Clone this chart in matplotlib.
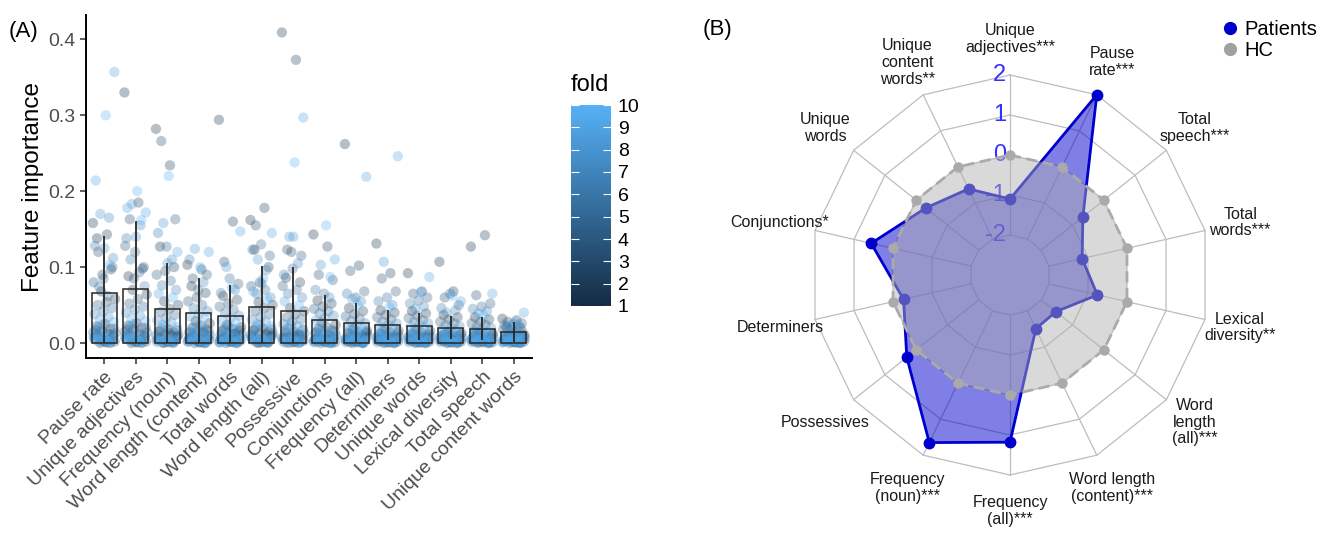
import numpy as np
import matplotlib
matplotlib.use("Agg")
import matplotlib.pyplot as plt
from matplotlib.colors import LinearSegmentedColormap
from matplotlib.cm import ScalarMappable
from matplotlib.lines import Line2D

plt.rcParams['font.family'] = ['Liberation Sans', 'DejaVu Sans']

# Panel A data ################################################################
features_a = ['Pause rate', 'Unique adjectives', 'Frequency (noun)',
              'Word length (content)', 'Total words', 'Word length (all)',
              'Possessive', 'Conjunctions', 'Frequency (all)', 'Determiners',
              'Unique words', 'Lexical diversity', 'Total speech',
              'Unique content words']

# mean importance and sd (bars + error lines)
imp_mean = [0.066, 0.0715, 0.045, 0.039, 0.036, 0.047, 0.0425,
            0.030, 0.027, 0.024, 0.022, 0.020, 0.019, 0.015]
imp_sd = [0.075, 0.0895, 0.060, 0.046, 0.040, 0.055, 0.0575,
          0.033, 0.026, 0.020, 0.018, 0.015, 0.015, 0.013]

# single runs (fold = position % 10 + 1)
pause_rate = [0.158, 0.143, 0.120, 0.100, 0.085, 0.128, 0.165, 0.170, 0.357, 0.300,
              0.138, 0.097, 0.090, 0.080, 0.062, 0.074, 0.112, 0.125, 0.214, 0.103,
              0.068, 0.058, 0.054, 0.050, 0.046, 0.042, 0.038, 0.034, 0.031, 0.028,
              0.025, 0.022, 0.019, 0.016, 0.014, 0.012, 0.010, 0.008, 0.006, 0.005,
              0.004, 0.003, 0.002, 0.001, 0.011, 0.007, 0.015, 0.009, 0.003, 0.002,
              0.010, 0.002, 0.017, 0.000, 0.006, 0.013, 0.001, 0.021, 0.004, 0.008,
              0.005, 0.012, 0.000, 0.019, 0.003, 0.009, 0.001, 0.024, 0.007, 0.002]
unique_adj = [0.330, 0.185, 0.163, 0.100, 0.120, 0.138, 0.155, 0.183, 0.172, 0.200,
              0.088, 0.098, 0.085, 0.128, 0.093, 0.110, 0.075, 0.140, 0.178, 0.162,
              0.070, 0.064, 0.058, 0.052, 0.048, 0.044, 0.040, 0.036, 0.032, 0.029,
              0.026, 0.023, 0.020, 0.018, 0.015, 0.013, 0.011, 0.009, 0.007, 0.005,
              0.004, 0.003, 0.002, 0.001, 0.012, 0.008, 0.016, 0.006, 0.003, 0.002,
              0.009, 0.001, 0.018, 0.000, 0.005, 0.014, 0.002, 0.022, 0.004, 0.007,
              0.006, 0.011, 0.000, 0.020, 0.003, 0.010, 0.001, 0.025, 0.008, 0.002]
freq_noun = [0.282, 0.234, 0.266, 0.163, 0.127, 0.145, 0.110, 0.158, 0.120, 0.220,
             0.127, 0.100, 0.095, 0.090, 0.082, 0.076, 0.070, 0.105, 0.065, 0.060,
             0.055, 0.050, 0.045, 0.041, 0.037, 0.033, 0.030, 0.027, 0.024, 0.021,
             0.018, 0.016, 0.014, 0.012, 0.010, 0.008, 0.006, 0.005, 0.004, 0.003,
             0.002, 0.001, 0.009, 0.013, 0.007, 0.003, 0.002, 0.001, 0.004, 0.002,
             0.008, 0.001, 0.015, 0.000, 0.005, 0.011, 0.002, 0.019, 0.003, 0.006,
             0.004, 0.010, 0.000, 0.017, 0.002, 0.007, 0.001, 0.022, 0.005, 0.001]
wl_content = [0.103, 0.097, 0.085, 0.090, 0.070, 0.110, 0.080, 0.124, 0.120, 0.100,
              0.075, 0.066, 0.060, 0.055, 0.050, 0.046, 0.042, 0.038, 0.035, 0.032,
              0.029, 0.026, 0.023, 0.020, 0.018, 0.016, 0.014, 0.012, 0.010, 0.008,
              0.006, 0.005, 0.004, 0.003, 0.002, 0.001, 0.011, 0.007, 0.003, 0.002,
              0.015, 0.009, 0.004, 0.001, 0.006, 0.000, 0.012, 0.002, 0.018, 0.005,
              0.008, 0.001, 0.014, 0.000, 0.004, 0.010, 0.002, 0.020, 0.003, 0.007,
              0.006, 0.013, 0.000, 0.016, 0.002, 0.009, 0.001, 0.023, 0.004, 0.001]
total_words = [0.294, 0.160, 0.107, 0.078, 0.085, 0.066, 0.070, 0.100, 0.147, 0.073,
               0.062, 0.057, 0.052, 0.048, 0.044, 0.040, 0.036, 0.033, 0.030, 0.027,
               0.024, 0.021, 0.019, 0.017, 0.015, 0.013, 0.011, 0.009, 0.007, 0.006,
               0.005, 0.004, 0.003, 0.002, 0.001, 0.010, 0.008, 0.004, 0.002, 0.001,
               0.012, 0.006, 0.003, 0.002, 0.005, 0.000, 0.014, 0.001, 0.018, 0.004,
               0.009, 0.002, 0.016, 0.000, 0.006, 0.011, 0.001, 0.020, 0.003, 0.007,
               0.005, 0.012, 0.000, 0.017, 0.002, 0.008, 0.001, 0.022, 0.004, 0.002]
wl_all = [0.162, 0.178, 0.155, 0.115, 0.130, 0.123, 0.096, 0.110, 0.145, 0.085,
          0.123, 0.100, 0.080, 0.075, 0.070, 0.065, 0.060, 0.078, 0.068, 0.058,
          0.054, 0.050, 0.046, 0.042, 0.038, 0.034, 0.031, 0.028, 0.025, 0.022,
          0.019, 0.017, 0.015, 0.013, 0.011, 0.009, 0.007, 0.005, 0.004, 0.003,
          0.002, 0.001, 0.010, 0.006, 0.003, 0.002, 0.001, 0.008, 0.004, 0.002,
          0.010, 0.001, 0.017, 0.000, 0.005, 0.013, 0.002, 0.021, 0.004, 0.008,
          0.006, 0.012, 0.000, 0.018, 0.003, 0.009, 0.001, 0.024, 0.007, 0.002]
possessive = [0.409, 0.373, 0.123, 0.115, 0.098, 0.090, 0.105, 0.140, 0.297, 0.238,
              0.086, 0.080, 0.120, 0.075, 0.070, 0.065, 0.060, 0.140, 0.055, 0.050,
              0.046, 0.042, 0.038, 0.034, 0.031, 0.028, 0.025, 0.022, 0.019, 0.017,
              0.015, 0.013, 0.011, 0.009, 0.007, 0.005, 0.004, 0.003, 0.002, 0.001,
              0.010, 0.006, 0.003, 0.002, 0.001, 0.008, 0.004, 0.002, 0.012, 0.005,
              0.009, 0.001, 0.016, 0.000, 0.006, 0.012, 0.002, 0.020, 0.003, 0.007,
              0.005, 0.011, 0.000, 0.018, 0.002, 0.008, 0.001, 0.023, 0.006, 0.001]
conjunctions = [0.143, 0.127, 0.090, 0.083, 0.065, 0.070, 0.060, 0.103, 0.110, 0.155,
                0.056, 0.052, 0.048, 0.045, 0.042, 0.039, 0.036, 0.033, 0.030, 0.087,
                0.027, 0.024, 0.021, 0.019, 0.017, 0.015, 0.013, 0.011, 0.009, 0.007,
                0.006, 0.005, 0.004, 0.003, 0.002, 0.001, 0.010, 0.006, 0.003, 0.002,
                0.008, 0.004, 0.001, 0.005, 0.002, 0.000, 0.012, 0.001, 0.016, 0.003,
                0.007, 0.001, 0.014, 0.000, 0.004, 0.010, 0.002, 0.018, 0.003, 0.006,
                0.005, 0.011, 0.000, 0.015, 0.002, 0.008, 0.001, 0.020, 0.004, 0.001]
freq_all = [0.262, 0.102, 0.095, 0.068, 0.060, 0.065, 0.055, 0.058, 0.219, 0.050,
            0.046, 0.042, 0.038, 0.035, 0.032, 0.029, 0.026, 0.024, 0.022, 0.020,
            0.018, 0.016, 0.014, 0.012, 0.010, 0.008, 0.007, 0.006, 0.005, 0.004,
            0.003, 0.002, 0.001, 0.009, 0.005, 0.003, 0.002, 0.001, 0.011, 0.006,
            0.004, 0.002, 0.013, 0.007, 0.003, 0.000, 0.010, 0.001, 0.015, 0.002,
            0.007, 0.001, 0.013, 0.000, 0.004, 0.009, 0.002, 0.017, 0.003, 0.005,
            0.004, 0.010, 0.000, 0.014, 0.002, 0.006, 0.001, 0.019, 0.003, 0.001]
determiners = [0.131, 0.092, 0.085, 0.068, 0.060, 0.055, 0.050, 0.107, 0.246, 0.047,
               0.043, 0.040, 0.037, 0.034, 0.031, 0.028, 0.026, 0.024, 0.022, 0.020,
               0.018, 0.016, 0.014, 0.012, 0.010, 0.009, 0.008, 0.007, 0.006, 0.005,
               0.004, 0.003, 0.002, 0.001, 0.008, 0.005, 0.003, 0.002, 0.001, 0.011,
               0.006, 0.004, 0.002, 0.001, 0.003, 0.000, 0.009, 0.001, 0.014, 0.002,
               0.006, 0.001, 0.012, 0.000, 0.004, 0.008, 0.002, 0.016, 0.003, 0.005,
               0.004, 0.009, 0.000, 0.013, 0.002, 0.006, 0.001, 0.018, 0.003, 0.001]
unique_words = [0.092, 0.068, 0.065, 0.060, 0.056, 0.052, 0.048, 0.045, 0.087, 0.067,
                0.042, 0.039, 0.036, 0.033, 0.030, 0.028, 0.026, 0.024, 0.022, 0.020,
                0.018, 0.016, 0.014, 0.012, 0.010, 0.009, 0.008, 0.007, 0.006, 0.005,
                0.004, 0.003, 0.002, 0.001, 0.008, 0.005, 0.003, 0.002, 0.001, 0.010,
                0.006, 0.004, 0.002, 0.001, 0.003, 0.000, 0.009, 0.001, 0.013, 0.002,
                0.006, 0.001, 0.011, 0.000, 0.004, 0.008, 0.002, 0.015, 0.003, 0.005,
                0.004, 0.009, 0.000, 0.012, 0.002, 0.006, 0.001, 0.017, 0.003, 0.001]
lexical_div = [0.107, 0.068, 0.060, 0.050, 0.065, 0.046, 0.043, 0.040, 0.055, 0.062,
               0.037, 0.034, 0.031, 0.028, 0.026, 0.024, 0.022, 0.020, 0.018, 0.016,
               0.014, 0.013, 0.012, 0.011, 0.010, 0.009, 0.008, 0.007, 0.006, 0.005,
               0.004, 0.003, 0.002, 0.001, 0.008, 0.005, 0.003, 0.002, 0.001, 0.010,
               0.006, 0.004, 0.002, 0.001, 0.003, 0.000, 0.008, 0.001, 0.012, 0.002,
               0.005, 0.001, 0.010, 0.000, 0.003, 0.007, 0.002, 0.014, 0.003, 0.004,
               0.004, 0.008, 0.000, 0.011, 0.002, 0.005, 0.001, 0.015, 0.003, 0.001]
total_speech = [0.127, 0.142, 0.063, 0.052, 0.048, 0.045, 0.042, 0.039, 0.065, 0.036,
                0.034, 0.031, 0.028, 0.026, 0.024, 0.022, 0.020, 0.018, 0.016, 0.014,
                0.013, 0.012, 0.011, 0.010, 0.009, 0.008, 0.007, 0.006, 0.005, 0.004,
                0.003, 0.002, 0.001, 0.008, 0.005, 0.003, 0.002, 0.001, 0.010, 0.006,
                0.004, 0.002, 0.001, 0.003, 0.015, 0.000, 0.009, 0.001, 0.012, 0.002,
                0.005, 0.001, 0.010, 0.000, 0.003, 0.007, 0.002, 0.014, 0.003, 0.004,
                0.004, 0.008, 0.000, 0.011, 0.002, 0.005, 0.001, 0.016, 0.003, 0.001]
unique_content = [0.032, 0.030, 0.028, 0.026, 0.025, 0.024, 0.023, 0.022, 0.040, 0.027,
                  0.021, 0.020, 0.019, 0.018, 0.017, 0.016, 0.015, 0.014, 0.013, 0.012,
                  0.011, 0.010, 0.009, 0.008, 0.007, 0.006, 0.005, 0.005, 0.004, 0.004,
                  0.003, 0.003, 0.002, 0.002, 0.001, 0.001, 0.008, 0.006, 0.003, 0.002,
                  0.010, 0.004, 0.002, 0.001, 0.003, 0.000, 0.007, 0.001, 0.011, 0.002,
                  0.005, 0.001, 0.009, 0.000, 0.003, 0.006, 0.002, 0.012, 0.003, 0.004,
                  0.004, 0.007, 0.000, 0.010, 0.002, 0.005, 0.001, 0.013, 0.003, 0.001]

runs = [pause_rate, unique_adj, freq_noun, wl_content, total_words, wl_all,
        possessive, conjunctions, freq_all, determiners, unique_words,
        lexical_div, total_speech, unique_content]

# Panel B data ################################################################
features_b = ['Unique\nadjectives***', 'Pause\nrate***', 'Total\nspeech***',
              'Total\nwords***', 'Lexical\ndiversity**', 'Word\nlength\n(all)***',
              'Word length\n(content)***', 'Frequency\n(all)***',
              'Frequency\n(noun)***', 'Possessives', 'Determiners',
              'Conjunctions*', 'Unique\nwords', 'Unique\ncontent\nwords**']
patients = [-1.10, 2.00, -0.67, -1.15, -0.76, -1.53, -1.51, 1.18, 1.65, 0.30,
            -0.27, 0.56, -0.31, -0.61]
hc = [0.0, 0.0, 0.0, 0.0, 0.0, 0.0, 0.0, 0.0, 0.0, 0.0, 0.0, 0.0, 0.0, 0.0]
grid_vals = [-2, -1, 0, 1, 2]
r_min = -3

# Figure ######################################################################
W, H = 1323, 533
fig = plt.figure(figsize=(W / 100, H / 100), dpi=100)

fold_cmap = LinearSegmentedColormap.from_list('fold', ['#132B43', '#56B1F7'])

# Panel A
ax = fig.add_axes([86 / W, 1 - 358 / H, (532 - 86) / W, (358 - 15) / H])
xs, ys, fs = [], [], []
for k, vals in enumerate(runs):
    for i, v in enumerate(vals):
        xs.append(k + 1 + ((i * 0.618034) % 1 - 0.5) * 0.72)
        ys.append(v)
        fs.append(i % 10 + 1)
xs, ys, fs = np.array(xs), np.array(ys), np.array(fs)
order = np.argsort(fs, kind='stable')
ax.scatter(xs[order], ys[order], c=fs[order], cmap=fold_cmap, vmin=1, vmax=10,
           s=55, alpha=0.3, linewidths=0, zorder=2)

pos = np.arange(1, len(features_a) + 1)
mean_arr, sd_arr = np.array(imp_mean), np.array(imp_sd)
ax.bar(pos, imp_mean, width=0.8, facecolor='none', edgecolor='#262626',
       linewidth=1.1, zorder=3)
ax.vlines(pos, np.clip(mean_arr - sd_arr, 0, None), mean_arr + sd_arr,
          color='#262626', lw=1.3, zorder=3)

ax.set_xlim(0.42, 14.58)
ax.set_ylim(-0.0197, 0.432)
ax.set_yticks([0.0, 0.1, 0.2, 0.3, 0.4])
ax.set_yticklabels(['0.0', '0.1', '0.2', '0.3', '0.4'])
ax.set_xticks(pos)
ax.set_xticklabels(features_a, rotation=45, ha='right', va='top',
                   rotation_mode='anchor')
ax.tick_params(axis='both', labelsize=14, labelcolor='#4D4D4D', color='#333333',
               length=4, width=1.1)
for s in ['top', 'right']:
    ax.spines[s].set_visible(False)
for s in ['left', 'bottom']:
    ax.spines[s].set_linewidth(1.4)
ax.set_ylabel('Feature importance', fontsize=17.5, labelpad=3)
fig.text(9 / W, 1 - 31 / H, '(A)', fontsize=16, va='center', ha='left')

# colour bar
cax = fig.add_axes([571 / W, 1 - 306 / H, 40 / W, 201 / H])
cb = fig.colorbar(ScalarMappable(cmap=fold_cmap, norm=plt.Normalize(1, 10)),
                  cax=cax, ticks=range(1, 11))
cb.outline.set_visible(False)
cax.tick_params(direction='in', color='white', length=6, width=0.8,
                left=True, right=True, labelsize=14, pad=5)
cax.set_title('fold', fontsize=17, loc='left', pad=10)

# Panel B
bx = fig.add_axes([700 / W, 0, 623 / W, 1])
bx.set_xlim((700 - 1010) / 40, (1323 - 1010) / 40)
bx.set_ylim((275 - 533) / 40, 275 / 40)
bx.set_aspect('equal')
bx.axis('off')

n = len(features_b)
ang = np.deg2rad(90 - 360 / n * np.arange(n))
ca, sa = np.cos(ang), np.sin(ang)
closed = np.append(np.arange(n), 0)

for g in grid_vals:
    r = g - r_min
    bx.plot(r * ca[closed], r * sa[closed], color='#BDBDBD', lw=0.9, zorder=1)
r_in, r_out = grid_vals[0] - r_min, grid_vals[-1] - r_min
for c, s in zip(ca, sa):
    bx.plot([r_in * c, r_out * c], [r_in * s, r_out * s], color='#BDBDBD',
            lw=0.9, zorder=1)
for g in grid_vals:
    bx.text(-0.1, g - r_min, str(g), color='#3333FF', fontsize=17,
            ha='right', va='center', zorder=1)

for i, lab in enumerate(features_b):
    bx.text(5.9 * ca[i], 5.9 * sa[i], lab, fontsize=11.5, ha='center',
            va='center', linespacing=1.15, color='#1A1A1A')

rp = np.array(patients) - r_min
rh = np.array(hc) - r_min
bx.fill(rp * ca, rp * sa, color='#0000CC', alpha=0.5, lw=0, zorder=2)
bx.plot(rp[closed] * ca[closed], rp[closed] * sa[closed], color='#0000CC',
        lw=2, zorder=3)
bx.plot(rp * ca, rp * sa, 'o', color='#0000CC', ms=7.5, zorder=3)
bx.fill(rh * ca, rh * sa, color='#B1B1B1', alpha=0.48, lw=0, zorder=4)
bx.plot(rh[closed] * ca[closed], rh[closed] * sa[closed], color='#AAAAAA',
        lw=2, ls=(0, (4, 2)), zorder=5)
bx.plot(rh * ca, rh * sa, 'o', color='#AAAAAA', ms=6.5, zorder=5)

fig.text(703 / W, 1 - 29 / H, '(B)', fontsize=16, va='center', ha='left')

handles = [Line2D([], [], ls='none', marker='o', color='#0000CC', ms=8.5),
           Line2D([], [], ls='none', marker='o', color='#A0A0A0', ms=8.5)]
fig.legend(handles, ['Patients', 'HC'], loc='upper left',
           bbox_to_anchor=(1210 / W, 1 - 12 / H), frameon=False, fontsize=14.5,
           handletextpad=0.1, labelspacing=0.1, borderaxespad=0,
           handlelength=1.2)

fig.savefig('out.png', dpi=100)
plt.close()
